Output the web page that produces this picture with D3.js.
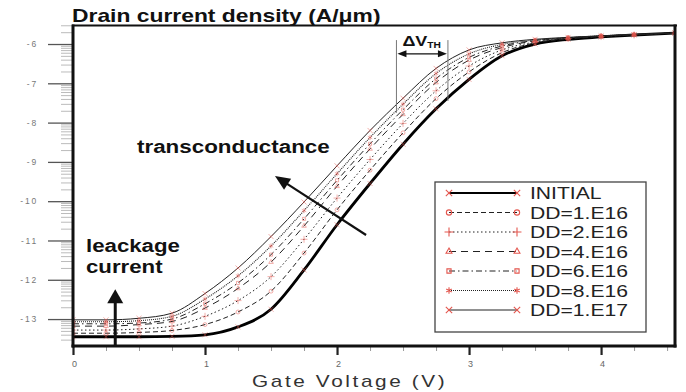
<!DOCTYPE html>
<html><head><meta charset="utf-8">
<script src="https://cdn.jsdelivr.net/npm/d3@7"></script>
<style>body{margin:0;background:#fff}svg{display:block}text{font-family:"Liberation Sans",Arial,sans-serif}</style>
</head><body><svg id="c" width="686" height="392"></svg>
<script>
// ---- data (log10 of drain current density, A/um) ----
const gateVoltage = [0,0.25,0.5,0.75,1,1.25,1.5,1.75,2,2.25,2.5,2.75,3,3.25,3.5,3.75,4,4.25,4.56];
const initial = [-13.45,-13.45,-13.45,-13.44,-13.40,-13.20,-12.75,-11.75,-10.60,-9.55,-8.55,-7.65,-6.90,-6.30,-6.00,-5.88,-5.82,-5.77,-5.72];
const dd1e16  = [-13.36,-13.36,-13.34,-13.29,-13.14,-12.82,-12.29,-11.32,-10.22,-9.21,-8.26,-7.39,-6.71,-6.22,-5.97,-5.87,-5.81,-5.77,-5.72];
const dd2e16  = [-13.28,-13.28,-13.25,-13.18,-12.93,-12.53,-11.92,-10.97,-9.92,-8.94,-8.02,-7.19,-6.56,-6.15,-5.95,-5.86,-5.81,-5.77,-5.72];
const dd4e16  = [-13.18,-13.18,-13.14,-13.06,-12.72,-12.22,-11.55,-10.63,-9.62,-8.67,-7.79,-6.98,-6.41,-6.09,-5.92,-5.85,-5.80,-5.76,-5.72];
const dd6e16  = [-13.12,-13.12,-13.10,-13.00,-12.61,-12.08,-11.36,-10.45,-9.47,-8.54,-7.67,-6.88,-6.34,-6.05,-5.91,-5.84,-5.80,-5.76,-5.72];
const dd8e16  = [-13.07,-13.07,-13.04,-12.93,-12.49,-11.90,-11.14,-10.24,-9.30,-8.38,-7.53,-6.75,-6.25,-6.01,-5.90,-5.84,-5.79,-5.76,-5.72];
const dd1e17  = [-13.02,-13.02,-12.98,-12.85,-12.35,-11.70,-10.90,-10.02,-9.10,-8.20,-7.38,-6.62,-6.15,-5.97,-5.88,-5.83,-5.79,-5.76,-5.72];
const seriesNames = ["INITIAL","DD=1.E16","DD=2.E16","DD=4.E16","DD=6.E16","DD=8.E16","DD=1.E17"];
const seriesValues = [initial, dd1e16, dd2e16, dd4e16, dd6e16, dd8e16, dd1e17];
const xTickValues = [0,1,2,3,4];
const xTickLabels = ["0","1","2","3","4"];
const yTickValues = [-13,-12,-11,-10,-9,-8,-7,-6];
const yTickLabels = ["-13","-12","-11","-10","-9","-8","-7","-6"];
const deltaVth = [2.45, 2.84];   // threshold voltages marked by the ΔVTH annotation

// ---- styles ----
const dashes = [null, "5,3", "1.5,2.5", "7,5", "6,3,1.5,3", "1,1", null];
const widths = [2.8, 1, 1, 1, 1, 1.1, 1];
const symbols = [d3.symbolTimes, d3.symbolCircle, d3.symbolPlus, d3.symbolTriangle2, d3.symbolSquare2, d3.symbolAsterisk, d3.symbolTimes];
const symSizes = [18, 12, 18, 15, 12, 18, 18];
const red = "#e4574f";

const svg = d3.select("#c");
const x = d3.scaleLinear().domain([0, 4.56]).range([73, 675]);
const y = d3.scaleLinear().domain([-13.66, -5.516]).range([345, 25]);

// ---- axes ----
const minorX = d3.range(0, 4.56, 0.25).filter(v => Math.abs(v - Math.round(v)) > 1e-6);
svg.append("g").attr("transform","translate(0,346)")
  .call(d3.axisBottom(x).tickValues(minorX).tickSize(5).tickFormat(""))
  .call(g => { g.select(".domain").remove(); g.selectAll("line").attr("stroke","#999"); });
svg.append("g").attr("transform","translate(0,346)")
  .call(d3.axisBottom(x).tickValues(xTickValues).tickSize(9).tickPadding(6).tickFormat((d,i)=>xTickLabels[i]))
  .call(g => { g.select(".domain").remove();
    g.selectAll("line").attr("stroke","#222").attr("stroke-width",2.2);
    g.selectAll("text").attr("fill","#666").style("font-size","9px").attr("dx","1"); });

const minorY = [];
for (let n = -14; n <= -6; n++) for (let k = 2; k <= 9; k++) {
  const v = n + Math.log10(k);
  if (v > -13.66 && v < -5.516) minorY.push(v);
}
svg.append("g").attr("transform","translate(73,0)")
  .call(d3.axisLeft(y).tickValues(minorY).tickSize(12).tickFormat(""))
  .call(g => { g.select(".domain").remove(); g.selectAll("line").attr("stroke","#bbb"); });
svg.append("g").attr("transform","translate(73,0)")
  .call(d3.axisLeft(y).tickValues(yTickValues).tickSize(25).tickPadding(10).tickFormat((d,i)=>yTickLabels[i]))
  .call(g => { g.select(".domain").remove();
    g.selectAll("line").attr("stroke","#555").attr("stroke-width",1.3);
    g.selectAll("text").attr("fill","#777").style("font-size","8.5px").style("letter-spacing","1.8px"); });

// ---- curves ----
svg.append("clipPath").attr("id","clip").append("rect")
  .attr("x",x(0)).attr("y",y(-5.516)).attr("width",x(4.56)-x(0)).attr("height",y(-13.66)-y(-5.516)+1);
const plot = svg.append("g").attr("clip-path","url(#clip)");
const line = d3.line().x((d,i)=>x(gateVoltage[i])).y(d=>y(d)).curve(d3.curveMonotoneX);

seriesValues.forEach((vals, s) => {
  plot.append("path").attr("d", line(vals)).attr("fill","none")
    .attr("stroke", s===0 ? "#000" : "#222").attr("stroke-width", widths[s])
    .attr("stroke-dasharray", dashes[s]);
});
seriesValues.forEach((vals, s) => {
  const sym = d3.symbol().type(symbols[s]).size(symSizes[s]);
  plot.selectAll(null).data(vals).enter().append("path")
    .attr("d", sym)
    .attr("transform",(d,i)=>`translate(${x(gateVoltage[i])},${y(d)})`)
    .attr("fill","none").attr("stroke", red).attr("stroke-width",0.8).attr("opacity",0.6);
});

// ---- frame ----
svg.append("line").attr("x1",72).attr("x2",677).attr("y1",25.5).attr("y2",25.5).attr("stroke","#111").attr("stroke-width",2);
svg.append("line").attr("x1",73).attr("x2",73).attr("y1",24.5).attr("y2",347.5).attr("stroke","#111").attr("stroke-width",3);
svg.append("line").attr("x1",675).attr("x2",675).attr("y1",24.5).attr("y2",347.5).attr("stroke","#111").attr("stroke-width",3);
svg.append("line").attr("x1",71.5).attr("x2",676.5).attr("y1",346).attr("y2",346).attr("stroke","#111").attr("stroke-width",3);

// ---- texts ----
function stext(str, px, py, size, sx, weight, fill, extra) {
  const t = svg.append("text").attr("transform",`translate(${px},${py}) scale(${sx},1)`)
    .style("font-size", size+"px").style("font-weight", weight).attr("fill", fill).text(str);
  if (extra) extra(t);
  return t;
}
stext("Drain current density (A/\u03bcm)", 72, 22, 18, 1.27, "bold", "#111");
stext("transconductance", 137, 153, 17.5, 1.28, "bold", "#111");
stext("leackage", 86, 252, 17.5, 1.27, "bold", "#111");
stext("current", 86, 273, 17.5, 1.27, "bold", "#111");
stext("Gate Voltage (V)", 252, 387, 16, 1.3, "normal", "#333", t => t.style("letter-spacing","2px"));

// ---- ΔVTH annotation ----
const xl = x(deltaVth[0]), xr = x(deltaVth[1]);
svg.append("line").attr("x1",xl).attr("x2",xl).attr("y1",y(-5.9)).attr("y2",y(-7.75)).attr("stroke","#777").attr("stroke-width",1);
svg.append("line").attr("x1",xr).attr("x2",xr).attr("y1",y(-5.9)).attr("y2",y(-7.45)).attr("stroke","#777").attr("stroke-width",1);
const ay = y(-6.25);
svg.append("line").attr("x1",xl+4).attr("x2",xr-4).attr("y1",ay).attr("y2",ay).attr("stroke","#111").attr("stroke-width",1.4);
svg.append("path").attr("d",`M${xl+1},${ay} l9,-3.5 l0,7 Z M${xr-1},${ay} l-9,-3.5 l0,7 Z`).attr("fill","#111");
const dv = svg.append("text").attr("transform",`translate(${xl+6},46) scale(1.2,1)`)
  .style("font-size","15px").style("font-weight","bold").attr("fill","#111");
dv.append("tspan").text("\u0394V");
dv.append("tspan").attr("dy",2).style("font-size","8.5px").text("TH");

// ---- arrows ----
function arrow(x1, y1, x2, y2, w, headL, headW) {
  const dx = x2-x1, dy = y2-y1, L = Math.hypot(dx,dy), ux = dx/L, uy = dy/L;
  const bx = x2 - ux*headL, by = y2 - uy*headL;
  svg.append("line").attr("x1",x1).attr("y1",y1).attr("x2",bx+ux).attr("y2",by+uy)
    .attr("stroke","#111").attr("stroke-width",w);
  svg.append("path").attr("d",`M${x2},${y2} L${bx - uy*headW/2},${by + ux*headW/2} L${bx + uy*headW/2},${by - ux*headW/2} Z`).attr("fill","#111");
}
arrow(x(0.32), 346, x(0.32), y(-12.24), 3, 14, 16);
arrow(x(2.22), y(-10.86), x(1.53), y(-9.36), 2.2, 15, 13);

// ---- legend ----
const lg = svg.append("g");
lg.append("rect").attr("x",435).attr("y",182).attr("width",211).attr("height",150)
  .attr("fill","#fff").attr("stroke","#444").attr("stroke-width",1.3);
seriesNames.forEach((name, s) => {
  const ry = 193 + s*19.5;
  lg.append("line").attr("x1",449).attr("x2",517).attr("y1",ry).attr("y2",ry)
    .attr("stroke", s===0 ? "#000" : "#222").attr("stroke-width", s===0 ? 2.2 : widths[s]).attr("stroke-dasharray", dashes[s]);
  const sym = d3.symbol().type(symbols[s]).size(symSizes[s]+10);
  [449,517].forEach(px => lg.append("path").attr("d",sym).attr("transform",`translate(${px},${ry})`)
    .attr("fill","none").attr("stroke",red).attr("stroke-width",1.1));
  lg.append("text").attr("transform",`translate(530,${ry+6}) scale(1.32,1)`)
    .style("font-size","16px").attr("fill","#222").text(name);
});
</script></body></html>
